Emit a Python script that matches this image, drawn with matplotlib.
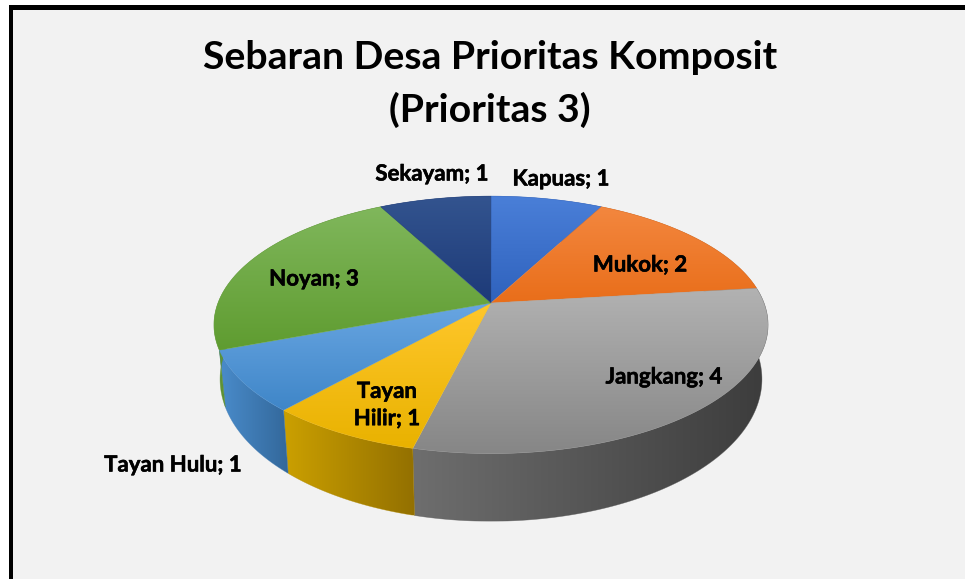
import numpy as np
import matplotlib.pyplot as plt
import matplotlib.patheffects as pe
from matplotlib.patches import Polygon, Rectangle
from matplotlib.colors import LinearSegmentedColormap

title = "Sebaran Desa Prioritas Komposit\n(Prioritas 3)"
names = ["Kapuas", "Mukok", "Jangkang", "Tayan\nHilir", "Tayan Hulu", "Noyan", "Sekayam"]
values = [1, 2, 4, 1, 1, 3, 1]

# top face gradient (upper, lower), side gradient (left, right)
top_light = ["#4a7fd8", "#f3873f", "#b2b2b2", "#ffc72c", "#69a6e2", "#80b75c", "#33548f"]
top_dark = ["#2f62bd", "#e96e1a", "#868686", "#e9b200", "#3f86c8", "#5f9c30", "#1d3a78"]
side_light = ["#2f62bd", "#c05a14", "#6e6e6e", "#cba000", "#4a8ccb", "#5f9436", "#1d3a78"]
side_dark = ["#264f9a", "#9a4810", "#3c3c3c", "#937000", "#33689b", "#4f7f2c", "#162c5c"]

label_x = [561, 640, 664, 387, 173, 314, 432]
label_y = [179, 265, 377, 405, 465, 279, 174]

fig = plt.figure(figsize=(9.65, 5.79), dpi=100, facecolor="white")
ax = fig.add_axes([0, 0, 1, 1])
ax.set_xlim(0, 965)
ax.set_ylim(579, 0)
ax.axis("off")

ax.add_patch(Rectangle((9, 5), 960, 580, facecolor="black", edgecolor="none", zorder=0))
ax.add_patch(Rectangle((13, 10), 960, 580, facecolor="#f2f2f2", edgecolor="none", zorder=0))


# pie is a tilted disc, so the far edge gets squeezed
def project(ang, cy, rx, ry, k=0.17):
    u = np.sin(ang)
    v = np.cos(ang)
    w = 1 + k * v
    return 491 + rx * u / w, cy - ry * v / w


def top_arc(ang):
    return project(ang, 303, 273, 125)


def bottom_arc(ang):
    return project(ang, 355, 267, 138)


def gradient_fill(xs, ys, c1, c2, vertical, z):
    pts = np.column_stack([xs, ys])
    patch = Polygon(pts, closed=True, facecolor="none", edgecolor="none")
    ax.add_patch(patch)
    cmap = LinearSegmentedColormap.from_list("g", [c1, c2])
    ramp = np.linspace(0, 1, 256)
    ramp = ramp.reshape(-1, 1) if vertical else ramp.reshape(1, -1)
    im = ax.imshow(ramp, cmap=cmap, aspect="auto", zorder=z, interpolation="bilinear",
                   extent=[xs.min(), xs.max(), ys.max(), ys.min()])
    im.set_clip_path(patch)
    # thin outline hides the jagged clip edge
    ax.add_patch(Polygon(pts, closed=True, facecolor="none", zorder=z + 0.1, linewidth=0.4,
                         edgecolor=cmap(0.5), alpha=0.6))


edges = np.radians(np.concatenate([[0], np.cumsum(values)]) * 360 / sum(values))

# side walls, back ones first so the front ones land on top
for i in [0, 1, 6, 5, 4, 3, 2]:
    a = np.linspace(edges[i], edges[i + 1], 120)
    x1, y1 = top_arc(a)
    x2, y2 = bottom_arc(a)
    xs = np.concatenate([x1, x2[::-1]])
    ys = np.concatenate([y1, y2[::-1]])
    gradient_fill(xs, ys, side_light[i], side_dark[i], False, 2 + i * 0.2)

# top faces
for i in range(len(values)):
    a = np.linspace(edges[i], edges[i + 1], 120)
    x1, y1 = top_arc(a)
    xs = np.concatenate([[491], x1])
    ys = np.concatenate([[303], y1])
    gradient_fill(xs, ys, top_light[i], top_dark[i], True, 5 + i * 0.2)

ax.set_xlim(0, 965)
ax.set_ylim(579, 0)

ax.text(490, 84, title, ha="center", va="center", fontsize=28.3, fontweight="bold",
        family="Lato", linespacing=1.56, color="black", zorder=10)

for i in range(len(values)):
    t = ax.text(label_x[i], label_y[i], "%s; %d" % (names[i], values[i]), ha="center", va="center",
                fontsize=16, fontweight="bold", family="Lato", color="black", zorder=10,
                linespacing=1.37)
    t.set_path_effects([pe.withStroke(linewidth=0.4, foreground="black")])

fig.savefig("out.png", dpi=100)
